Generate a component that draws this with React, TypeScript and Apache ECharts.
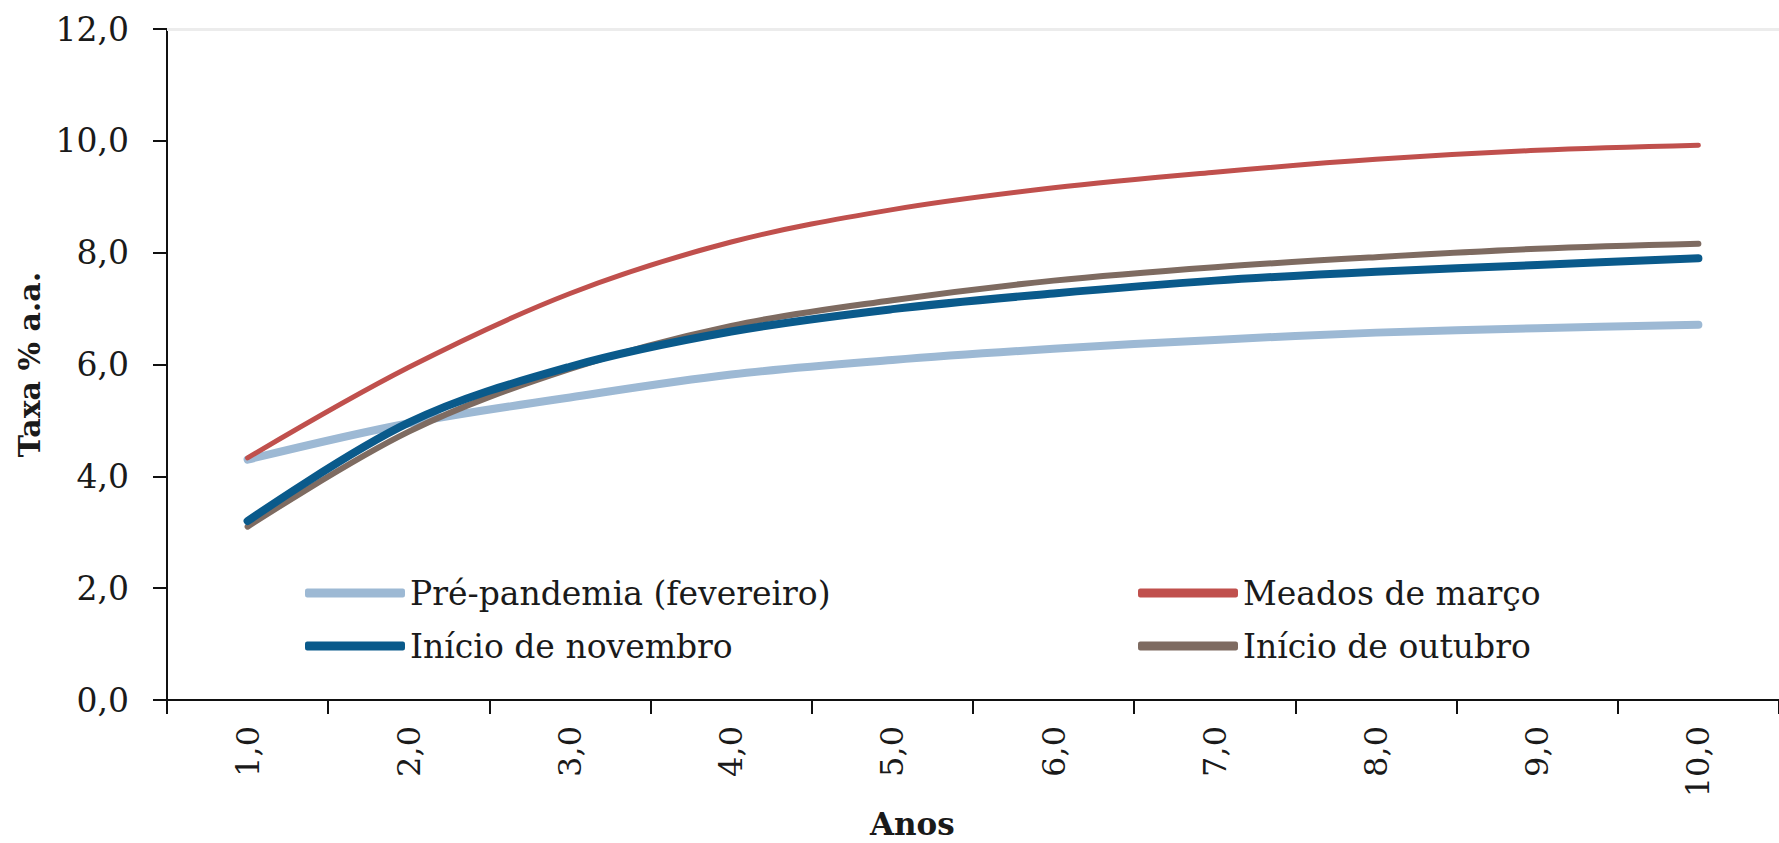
import React, { useEffect, useRef } from "react";
import * as echarts from "echarts";

const anos = ["1,0", "2,0", "3,0", "4,0", "5,0", "6,0", "7,0", "8,0", "9,0", "10,0"];
const prePandemia = [4.3, 4.95, 5.41, 5.82, 6.08, 6.28, 6.44, 6.57, 6.65, 6.71];
const meadosMarco = [4.33, 5.95, 7.27, 8.19, 8.77, 9.16, 9.44, 9.67, 9.83, 9.92];
const inicioNovembro = [3.2, 4.96, 5.96, 6.59, 6.99, 7.27, 7.5, 7.66, 7.78, 7.9];
const inicioOutubro = [3.1, 4.8, 5.92, 6.69, 7.15, 7.5, 7.74, 7.92, 8.07, 8.16];

const FONT = "DejaVu Serif";

export default function App() {
  const ref = useRef<HTMLDivElement>(null);
  useEffect(() => {
    if (!ref.current) return;
    const chart = echarts.init(ref.current, null, { renderer: "svg" });
    const mk = (name: string, data: number[], color: string, width: number, z: number) => ({
      name,
      type: "line",
      data,
      smooth: 0.35,
      symbol: "none",
      z,
      lineStyle: { color, width, cap: "round", join: "round" },
      itemStyle: { color },
    });
    const legendText = { fontFamily: FONT, fontSize: 33, color: "#1a1a1a", lineHeight: 38 };
    const legendBase = {
      orient: "vertical",
      top: 569,
      icon: "roundRect",
      itemWidth: 100,
      itemHeight: 9,
      itemGap: 15,
      textStyle: legendText,
    };
    chart.setOption({
      animation: false,
      backgroundColor: "#ffffff",
      grid: { left: 167, top: 29, bottom: 143, right: -14, containLabel: false },
      legend: [
        { ...legendBase, data: ["Pré-pandemia (fevereiro)", "Início de novembro"], left: 300 },
        { ...legendBase, data: ["Meados de março", "Início de outubro"], left: 1133 },
      ],
      xAxis: {
        type: "category",
        data: anos,
        boundaryGap: true,
        axisLine: { show: true, lineStyle: { color: "#111", width: 2 } },
        axisTick: { show: true, alignWithLabel: false, length: 14, lineStyle: { color: "#111", width: 2 } },
        axisLabel: {
          rotate: 90,
          margin: 26,
          fontFamily: FONT,
          fontSize: 32,
          color: "#1a1a1a",
        },
        splitLine: { show: false },
      },
      yAxis: {
        type: "value",
        min: 0,
        max: 12,
        interval: 2,
        name: "Taxa % a.a.",
        nameLocation: "middle",
        nameGap: 120,
        nameTextStyle: { fontFamily: FONT, fontSize: 30, fontWeight: "bold", color: "#1a1a1a" },
        axisLine: { show: true, lineStyle: { color: "#111", width: 2 } },
        axisTick: { show: true, inside: false, length: 14, lineStyle: { color: "#111", width: 2 } },
        axisLabel: {
          margin: 38,
          fontFamily: FONT,
          fontSize: 33,
          color: "#1a1a1a",
          formatter: (v: number) => v.toFixed(1).replace(".", ","),
        },
        splitLine: { show: false },
      },
      graphic: [
        {
          type: "text",
          left: 870,
          top: 808,
          style: { text: "Anos", fontFamily: FONT, fontSize: 31, fontWeight: "bold", fill: "#1a1a1a" },
        },
      ],
      series: [
        {
          ...mk("Pré-pandemia (fevereiro)", prePandemia, "#9DB9D4", 8, 2),
          markLine: {
            silent: true,
            symbol: "none",
            label: { show: false },
            lineStyle: { color: "#ececec", width: 3, type: "solid" },
            data: [{ yAxis: 12 }],
          },
        },
        mk("Meados de março", meadosMarco, "#C0504D", 5, 3),
        mk("Início de outubro", inicioOutubro, "#7E6B61", 6, 4),
        mk("Início de novembro", inicioNovembro, "#0A5A8B", 8, 5),
      ],
    });
    return () => chart.dispose();
  }, []);
  return (
    <div
      ref={ref}
      style={{ position: "fixed", left: 0, top: 0, width: 1779, height: 843, background: "#fff" }}
    />
  );
}
